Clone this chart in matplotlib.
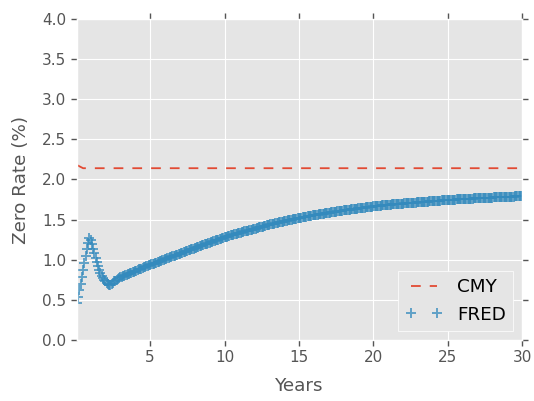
import matplotlib
matplotlib.use("Agg")
import matplotlib.pyplot as plt

# maturities: monthly, 1 month to 30 years
fred_years = [m / 12 for m in range(1, 361)]
fred_rates = [
    # years 0-3
    0.46, 0.54, 0.62, 0.70, 0.78, 0.87, 0.96, 1.05, 1.13, 1.21, 1.27, 1.25,
    1.20, 1.14, 1.08, 1.02, 0.97, 0.92, 0.87, 0.83, 0.80, 0.77, 0.75, 0.73,
    0.71, 0.70, 0.69, 0.69, 0.70, 0.71, 0.73, 0.74, 0.75, 0.76, 0.77, 0.78,
    # years 3-30
    0.787, 0.794, 0.800, 0.807, 0.813, 0.820, 0.827, 0.833, 0.840, 0.847, 0.853, 0.860,
    0.866, 0.872, 0.879, 0.885, 0.891, 0.898, 0.904, 0.910, 0.916, 0.922, 0.929, 0.935,
    0.941, 0.947, 0.953, 0.959, 0.965, 0.971, 0.977, 0.983, 0.989, 0.995, 1.000, 1.005,
    1.011, 1.017, 1.023, 1.029, 1.035, 1.041, 1.046, 1.052, 1.058, 1.064, 1.069, 1.075,
    1.081, 1.087, 1.093, 1.099, 1.105, 1.110, 1.116, 1.122, 1.128, 1.134, 1.139, 1.145,
    1.151, 1.156, 1.162, 1.168, 1.173, 1.179, 1.184, 1.190, 1.195, 1.201, 1.206, 1.212,
    1.218, 1.223, 1.229, 1.235, 1.240, 1.246, 1.252, 1.257, 1.263, 1.268, 1.274, 1.280,
    1.285, 1.289, 1.294, 1.298, 1.303, 1.308, 1.312, 1.317, 1.321, 1.326, 1.330, 1.335,
    1.339, 1.343, 1.348, 1.352, 1.356, 1.360, 1.364, 1.368, 1.372, 1.376, 1.381, 1.385,
    1.389, 1.393, 1.397, 1.402, 1.406, 1.410, 1.414, 1.418, 1.422, 1.427, 1.431, 1.435,
    1.439, 1.443, 1.446, 1.450, 1.454, 1.458, 1.461, 1.465, 1.469, 1.472, 1.476, 1.480,
    1.483, 1.487, 1.490, 1.493, 1.497, 1.500, 1.503, 1.507, 1.510, 1.513, 1.517, 1.520,
    1.523, 1.526, 1.529, 1.532, 1.535, 1.538, 1.541, 1.543, 1.546, 1.549, 1.552, 1.555,
    1.558, 1.560, 1.563, 1.565, 1.568, 1.570, 1.573, 1.575, 1.578, 1.580, 1.583, 1.585,
    1.588, 1.590, 1.593, 1.595, 1.598, 1.600, 1.603, 1.605, 1.608, 1.610, 1.613, 1.615,
    1.617, 1.619, 1.621, 1.623, 1.625, 1.627, 1.630, 1.632, 1.634, 1.636, 1.638, 1.640,
    1.642, 1.644, 1.646, 1.648, 1.650, 1.652, 1.655, 1.657, 1.659, 1.661, 1.663, 1.665,
    1.667, 1.668, 1.670, 1.672, 1.673, 1.675, 1.677, 1.678, 1.680, 1.682, 1.683, 1.685,
    1.686, 1.687, 1.689, 1.690, 1.691, 1.692, 1.694, 1.695, 1.696, 1.697, 1.699, 1.700,
    1.701, 1.702, 1.704, 1.705, 1.706, 1.707, 1.709, 1.710, 1.711, 1.712, 1.714, 1.715,
    1.716, 1.717, 1.719, 1.720, 1.721, 1.722, 1.724, 1.725, 1.726, 1.727, 1.729, 1.730,
    1.731, 1.732, 1.734, 1.735, 1.736, 1.737, 1.739, 1.740, 1.741, 1.742, 1.744, 1.745,
    1.746, 1.747, 1.748, 1.748, 1.749, 1.750, 1.751, 1.752, 1.753, 1.753, 1.754, 1.755,
    1.756, 1.757, 1.758, 1.758, 1.759, 1.760, 1.761, 1.762, 1.763, 1.763, 1.764, 1.765,
    1.766, 1.767, 1.768, 1.768, 1.769, 1.770, 1.771, 1.772, 1.773, 1.773, 1.774, 1.775,
    1.776, 1.777, 1.778, 1.778, 1.779, 1.780, 1.781, 1.782, 1.783, 1.783, 1.784, 1.785,
    1.785, 1.786, 1.786, 1.787, 1.787, 1.788, 1.788, 1.788, 1.789, 1.789, 1.790, 1.790,
]

cmy_years = [1 / 12, 0.5, 1, 2, 3, 5, 7, 10, 20, 30]
cmy_rates = [2.18, 2.14, 2.14, 2.14, 2.14, 2.14, 2.14, 2.14, 2.14, 2.14]

plt.style.use("ggplot")
plt.rcParams["lines.scale_dashes"] = False
plt.rcParams["xtick.top"] = True
plt.rcParams["ytick.right"] = True

fig = plt.figure(figsize=(5.34, 4.01), dpi=100)
ax = fig.add_axes([0.144, 0.152, 0.834, 0.801])

ax.plot(cmy_years, cmy_rates, color="#E24A33", linestyle=(0, (7, 6.5)),
        linewidth=1.3, label="CMY")
ax.plot(fred_years, fred_rates, color="#348ABD", linestyle="none", marker="+",
        markersize=7, markeredgewidth=1.4, alpha=0.75, label="FRED")

ax.set_xlim(1 / 12, 30)
ax.set_ylim(0, 4)
ax.set_xticks([5, 10, 15, 20, 25, 30])
ax.set_yticks([0, 0.5, 1.0, 1.5, 2.0, 2.5, 3.0, 3.5, 4.0])
ax.set_yticklabels([f"{v:.1f}" for v in ax.get_yticks()])
ax.tick_params(labelsize=11, colors="#555555", length=4, width=1)
ax.set_xlabel("Years", fontsize=13.2, color="#555555", labelpad=8)
ax.set_ylabel("Zero Rate (%)", fontsize=13.2, color="#555555", labelpad=9)

leg = ax.legend(loc="lower right", numpoints=2, fontsize=13.2, fancybox=False,
                handlelength=2.0, borderaxespad=0.5)
leg.get_frame().set_facecolor("#E5E5E5")
leg.get_frame().set_edgecolor("white")
leg.get_frame().set_alpha(1.0)
for t in leg.get_texts():
    t.set_color("black")

fig.savefig("out.png", dpi=100)
